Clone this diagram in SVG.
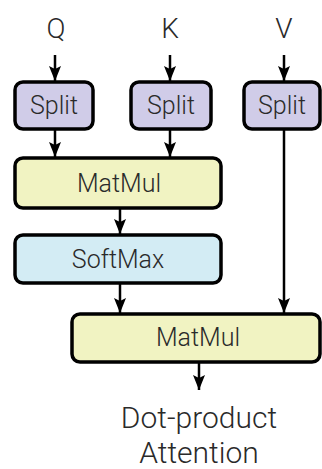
<svg xmlns="http://www.w3.org/2000/svg" width="322" height="469" viewBox="0 0 322 469">
  <style>
    .box { stroke: #000; stroke-width: 3.5; }
    .split { fill: #d0cce8; }
    .mat { fill: #f1f3c2; }
    .soft { fill: #d3ecf4; }
    .lbl { font-family: Roboto, "Liberation Sans", Arial, sans-serif; font-weight: 300; fill: #2a2a2a; text-anchor: middle; }
    .in { font-size: 28px; }
    .op { font-size: 25px; }
    .out { font-size: 30px; }
    .wire { stroke: #000; stroke-width: 2.5; fill: none; }
  </style>
  <defs>
    <marker id="arrow" viewBox="0 0 15 12" refX="15" refY="6" markerWidth="15" markerHeight="12" markerUnits="userSpaceOnUse" orient="auto">
      <path d="M0,0 L15,6 L0,12 L3,6 Z" fill="#000"/>
    </marker>
  </defs>
  <rect width="322" height="469" fill="#fff"/>

  <!-- inputs -->
  <g id="input-q"><text class="lbl in" x="56" y="38">Q</text></g>
  <g id="input-k"><text class="lbl in" x="170" y="38">K</text></g>
  <g id="input-v"><text class="lbl in" x="284" y="38">V</text></g>

  <!-- connectors -->
  <g id="connectors">
    <line class="wire" x1="55" y1="55" x2="55" y2="81" marker-end="url(#arrow)"/>
    <line class="wire" x1="170" y1="55" x2="170" y2="81" marker-end="url(#arrow)"/>
    <line class="wire" x1="284" y1="55" x2="284" y2="81" marker-end="url(#arrow)"/>
    <line class="wire" x1="55" y1="130" x2="55" y2="157" marker-end="url(#arrow)"/>
    <line class="wire" x1="170" y1="130" x2="170" y2="157" marker-end="url(#arrow)"/>
    <line class="wire" x1="120" y1="209" x2="120" y2="234" marker-end="url(#arrow)"/>
    <line class="wire" x1="120" y1="284" x2="120" y2="313" marker-end="url(#arrow)"/>
    <line class="wire" x1="284" y1="130" x2="284" y2="313" marker-end="url(#arrow)"/>
    <line class="wire" x1="199" y1="363" x2="199" y2="390" marker-end="url(#arrow)"/>
  </g>

  <!-- split nodes -->
  <g id="split-q">
    <rect class="box split" x="15" y="82" width="78" height="47" rx="8"/>
    <text class="lbl op" x="54" y="114">Split</text>
  </g>
  <g id="split-k">
    <rect class="box split" x="131" y="82" width="80" height="47" rx="8"/>
    <text class="lbl op" x="171" y="114">Split</text>
  </g>
  <g id="split-v">
    <rect class="box split" x="244" y="82" width="76" height="47" rx="8"/>
    <text class="lbl op" x="282" y="114">Split</text>
  </g>

  <!-- first matmul -->
  <g id="matmul-qk">
    <rect class="box mat" x="15" y="158" width="206" height="50" rx="8"/>
    <text class="lbl op" x="119" y="192">MatMul</text>
  </g>

  <!-- softmax -->
  <g id="softmax">
    <rect class="box soft" x="15" y="235" width="206" height="48" rx="8"/>
    <text class="lbl op" x="118" y="268">SoftMax</text>
  </g>

  <!-- second matmul -->
  <g id="matmul-v">
    <rect class="box mat" x="72" y="314" width="248" height="48" rx="8"/>
    <text class="lbl op" x="198" y="346">MatMul</text>
  </g>

  <!-- output -->
  <g id="output">
    <text class="lbl out" x="199" y="428">Dot-product</text>
    <text class="lbl out" x="199" y="463">Attention</text>
  </g>
</svg>
